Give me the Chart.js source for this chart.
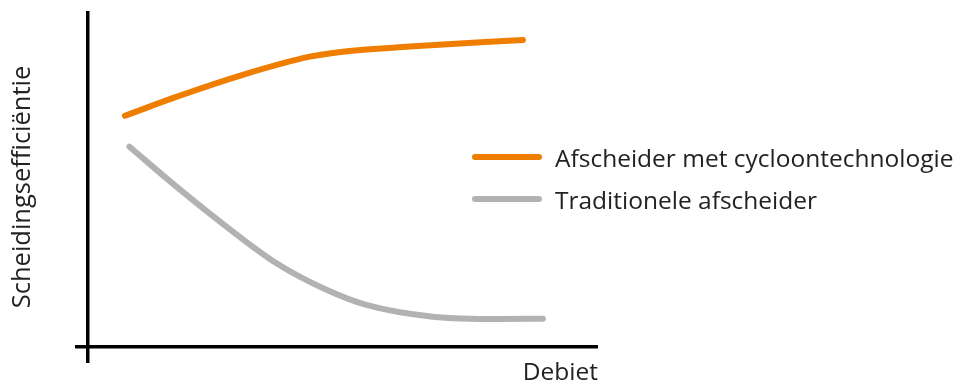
<!DOCTYPE html>
<html>
<head>
<meta charset="utf-8">
<script src="https://cdn.jsdelivr.net/npm/chart.js@4"></script>
<style>
  html, body { margin: 0; padding: 0; background: #fff; }
  #wrap { position: relative; width: 957px; height: 383px; }
  #legend { position: absolute; left: 472px; top: 136px; font-family: "Open Sans", sans-serif; font-size: 24.5px; color: #222; }
  .item { display: flex; align-items: center; height: 42px; white-space: nowrap; }
  .swatch { width: 70px; height: 6px; border-radius: 3px; margin-right: 13px; flex: none; }
</style>
</head>
<body>
<div id="wrap">
  <canvas id="myChart" width="957" height="383"></canvas>
  <div id="legend"></div>
</div>
<script>
// DATA (debiet in arbitrary units 0..10, efficiency 0..10)
const labels = ["Afscheider met cycloontechnologie", "Traditionele afscheider"];
const colors = ["#ef7d00", "#b2b2b2"];

const cycloonX = [0.73, 1.75, 3.04, 4.35, 5.0, 6.31, 8.53];
const cycloonY = [6.88, 7.45, 8.10, 8.64, 8.79, 8.94, 9.14];

const tradX = [0.82, 1.74, 2.72, 3.70, 4.68, 5.46, 6.76, 8.08, 8.92];
const tradY = [5.96, 4.77, 3.58, 2.49, 1.70, 1.25, 0.90, 0.83, 0.84];

const xTitle = "Debiet";
const yTitle = "Scheidingsefficiëntie";

function toPoints(xs, ys) {
  return xs.map((x, i) => ({ x: x, y: ys[i] }));
}

// only keep one grid line at 0, used as axis line
function axisAtZero(scale) {
  scale.ticks = [{ value: 0 }];
}
function axisColor(ctx) {
  return ctx.tick && ctx.tick.value === 0 ? "#000" : "rgba(0,0,0,0)";
}

const ctx = document.getElementById("myChart");
const chart = new Chart(ctx, {
  type: "line",
  data: {
    datasets: [
      {
        label: labels[0],
        data: toPoints(cycloonX, cycloonY),
        borderColor: colors[0],
        borderWidth: 6,
        borderCapStyle: "round",
        pointRadius: 0,
        cubicInterpolationMode: "monotone",
      },
      {
        label: labels[1],
        data: toPoints(tradX, tradY),
        borderColor: colors[1],
        borderWidth: 6,
        borderCapStyle: "round",
        pointRadius: 0,
        cubicInterpolationMode: "monotone",
      },
    ],
  },
  options: {
    responsive: false,
    animation: false,
    layout: { padding: { top: 11, right: 359, left: 0, bottom: 0 } },
    plugins: { legend: { display: false }, tooltip: { enabled: false } },
    scales: {
      x: {
        type: "linear",
        min: -0.255,
        max: 10,
        afterBuildTicks: axisAtZero,
        ticks: { display: false },
        border: { display: false },
        grid: { color: axisColor, lineWidth: 3.5, drawTicks: false },
        title: {
          display: true,
          text: xTitle,
          align: "end",
          color: "#222",
          font: { family: "Open Sans", size: 24.5, lineHeight: 0.82 },
          padding: { top: 0, bottom: 0 },
        },
      },
      y: {
        type: "linear",
        min: -0.476,
        max: 10,
        afterBuildTicks: axisAtZero,
        ticks: { display: false },
        border: { display: false },
        grid: { color: axisColor, lineWidth: 3.5, drawTicks: false },
        title: {
          display: true,
          text: yTitle,
          color: "#222",
          font: { family: "Open Sans", size: 25.5, lineHeight: 1.2 },
          padding: { top: 7, bottom: 37 },
        },
      },
    },
  },
});

// legend
let legendHtml = document.getElementById("legend");
chart.data.datasets.forEach((ds) => {
  legendHtml.innerHTML +=
    "<div class='item'><span class='swatch' style='background:" +
    ds.borderColor +
    "'></span><span>" +
    ds.label +
    "</span></div>";
});
</script>
</body>
</html>
